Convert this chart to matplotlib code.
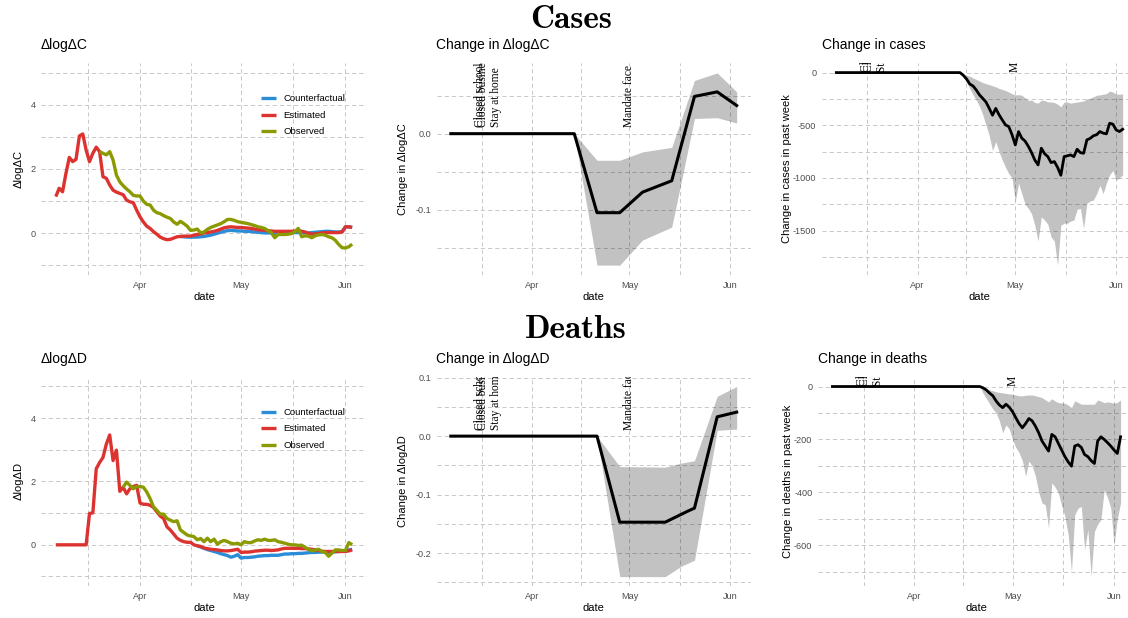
import numpy as np
import pandas as pd
import matplotlib
matplotlib.use('Agg')
import matplotlib.pyplot as plt
import matplotlib.dates as mdates

W, H = 1128, 618

# daily dates shown in the left panels
days = pd.date_range('2020-03-07', '2020-06-03')

# ---- Cases: dlogdC ----
cases_est = [1.14, 1.40, 1.29, 1.86, 2.36, 2.23, 2.30, 3.03, 3.09, 2.59, 2.23, 2.49, 2.68, 2.54,
             1.76, 1.71, 1.50, 1.34, 1.28, 1.24, 1.20, 1.03, 0.98, 0.95, 0.72,
             0.51, 0.35, 0.22, 0.15, 0.05, -0.03, -0.12, -0.17, -0.20, -0.19,
             -0.15, -0.11, -0.10, -0.09, -0.09, -0.09, -0.06, -0.04, -0.02, 0.01,
             0.02, 0.04, 0.06, 0.09, 0.13, 0.17, 0.19, 0.20, 0.19, 0.18,
             0.18, 0.17, 0.16, 0.15, 0.13, 0.11, 0.10, 0.09, 0.08, 0.07,
             0.06, 0.06, 0.06, 0.06, 0.06, 0.06, 0.07, 0.09, 0.06, 0.04,
             0.00, -0.03, -0.02, -0.01, 0.01, 0.02, 0.02, 0.02, 0.02, 0.02, 0.04,
             0.20, 0.20, 0.18]
cases_obs_start = '2020-03-20'
cases_obs = [2.54, 2.49, 2.44, 2.54, 2.28, 1.81, 1.60, 1.48, 1.38, 1.29, 1.18, 1.16,
             1.16, 1.00, 0.90, 0.88, 0.72, 0.64, 0.61, 0.55, 0.50, 0.46,
             0.35, 0.28, 0.37, 0.30, 0.22, 0.09, 0.10, 0.13, 0.01, 0.04,
             0.12, 0.18, 0.22, 0.26, 0.30, 0.36, 0.43, 0.43, 0.40, 0.36,
             0.34, 0.32, 0.30, 0.27, 0.24, 0.20, 0.18, 0.15, 0.08, 0.02,
             -0.14, -0.04, -0.04, -0.04, -0.03, -0.01, 0.05, 0.15, -0.11, -0.08,
             -0.09, -0.14, -0.08, -0.05, -0.04, -0.06, -0.11, -0.14, -0.22, -0.35, -0.45,
             -0.46, -0.42, -0.34]
cases_cf_start = '2020-04-13'
cases_cf = [-0.10, -0.11, -0.12, -0.12, -0.12, -0.12, -0.11, -0.10, -0.08, -0.06,
            -0.03, 0.00, 0.03, 0.06, 0.08, 0.09, 0.08, 0.07,
            0.07, 0.06, 0.06, 0.05, 0.04, 0.03, 0.02, 0.01, 0.01, 0.01,
            0.00, 0.00, 0.01, 0.01, 0.01, 0.01, 0.02, 0.02, 0.01, 0.01,
            0.01, 0.02, 0.03, 0.04, 0.05, 0.06, 0.06, 0.05, 0.04, 0.04, 0.05,
            0.20, 0.20, 0.18]

# ---- Deaths: dlogdD ----
deaths_est = [0, 0, 0, 0, 0, 0, 0, 0, 0, 0,
              0.99, 1.01, 2.40, 2.60, 2.76, 3.18, 3.47, 2.66, 2.99, 1.69,
              1.82, 1.61, 1.77, 1.84, 1.88,
              1.32, 1.28, 1.28, 1.25, 1.18, 1.04, 0.91, 0.83, 0.57, 0.47,
              0.34, 0.21, 0.14, 0.10, 0.08, 0.08, 0.00, -0.03, -0.05, -0.10,
              -0.12, -0.14, -0.15, -0.16, -0.18, -0.19, -0.19, -0.18, -0.16, -0.14,
              -0.24, -0.23, -0.23, -0.22, -0.20, -0.19, -0.18, -0.17, -0.17, -0.18,
              -0.17, -0.16, -0.13, -0.11, -0.11, -0.11, -0.11, -0.11, -0.12, -0.12,
              -0.13, -0.14, -0.16, -0.18, -0.20, -0.21, -0.21, -0.21, -0.21, -0.21, -0.21,
              -0.21, -0.19, -0.16]
deaths_obs_start = '2020-03-27'
deaths_obs = [1.82, 1.98, 1.88, 1.77, 1.84,
              1.84, 1.82, 1.67, 1.46, 1.20, 1.09, 0.97, 0.97, 0.83, 0.78,
              0.73, 0.76, 0.47, 0.39, 0.31, 0.28, 0.26, 0.16, 0.20, 0.10,
              0.21, 0.10, 0.18, 0.02, 0.10, 0.14, 0.10, 0.05, 0.03, 0.05,
              0.00, 0.10, 0.07, 0.07, 0.12, 0.16, 0.14, 0.18, 0.14, 0.14,
              0.16, 0.10, 0.08, 0.05, 0.02, 0.00, 0.00, -0.02, -0.01, -0.08,
              -0.14, -0.19, -0.16, -0.14, -0.21, -0.24, -0.36, -0.26, -0.16, -0.16, -0.18,
              -0.18, 0.07, 0.00]
deaths_cf_start = '2020-04-18'
deaths_cf = [-0.03, -0.07, -0.11, -0.15, -0.18, -0.21, -0.24, -0.28, -0.31, -0.34, -0.39, -0.36, -0.31,
             -0.42, -0.40, -0.40, -0.39, -0.38, -0.36, -0.35, -0.34, -0.34, -0.33,
             -0.33, -0.33, -0.31, -0.29, -0.29, -0.28, -0.28, -0.27, -0.27, -0.26,
             -0.25, -0.24, -0.24, -0.23, -0.23, -0.23, -0.23, -0.23, -0.22, -0.21, -0.20,
             -0.18, -0.16, -0.14]

# ---- change in dlogdC / dlogdD (policy effect) ----
cases_eff_dates = ['2020-03-07', '2020-04-14', '2020-04-21', '2020-04-28', '2020-05-05',
                   '2020-05-14', '2020-05-21', '2020-05-28', '2020-06-03']
cases_eff = [0, 0, -0.104, -0.104, -0.077, -0.062, 0.049, 0.055, 0.037]
cases_eff_lo = [0, 0, -0.173, -0.173, -0.140, -0.123, 0.020, 0.021, 0.014]
cases_eff_hi = [0, 0, -0.035, -0.035, -0.024, -0.018, 0.070, 0.080, 0.055]

deaths_eff_dates = ['2020-03-07', '2020-04-21', '2020-04-28', '2020-05-12', '2020-05-19',
                    '2020-05-21', '2020-05-28', '2020-06-03']
deaths_eff = [0, 0, -0.147, -0.147, -0.128, -0.123, 0.033, 0.041]
deaths_band_dates = ['2020-03-07', '2020-04-21', '2020-04-28', '2020-05-12', '2020-05-17',
                     '2020-05-21', '2020-05-28', '2020-06-03']
deaths_eff_lo = [0, 0, -0.240, -0.240, -0.222, -0.212, 0.010, 0.012]
deaths_eff_hi = [0, 0, -0.052, -0.053, -0.046, -0.042, 0.068, 0.085]

# ---- change in cases / deaths in past week ----
cases_chg_start = '2020-04-14'
cases_chg = [0, -25, -60, -108, -127, -165, -212, -245, -280, -340, -405, -340, -400, -450, -497, -513, -590,
             -687, -560, -623, -650, -700, -760, -830, -877, -718, -770,
             -798, -855, -845, -900, -975, -798, -790, -782, -798, -728,
             -760, -766, -639, -625, -600, -590, -560, -575, -582, -481, -490,
             -545, -560, -538]
cases_chg_hi = [0, -15, -25, -35, -50, -65, -80, -95, -105, -115, -125, -135, -150, -160, -170, -185, -200,
                -212, -210, -215, -240, -265, -260, -285, -290, -262, -265,
                -278, -280, -285, -300, -325, -280, -280, -290, -285, -280,
                -275, -270, -250, -245, -230, -215, -212, -205, -200, -175, -185,
                -205, -205, -203]
cases_chg_lo = [0, -40, -90, -150, -210, -260, -320, -400, -500, -600, -740, -655, -750, -830, -900, -960, -1000,
                -1225, -1050, -1150, -1250, -1290, -1340, -1450, -1600, -1370, -1400,
                -1440, -1560, -1600, -1830, -1450, -1430, -1430, -1410, -1400, -1300,
                -1290, -1480, -1240, -1220, -1210, -1150, -1070, -1150, -1050, -970, -930,
                -1020, -1000, -970]

deaths_chg_start = '2020-04-21'
deaths_chg = [0, -5, -13, -25, -35, -55, -70, -80, -67, -78,
              -95, -118, -140, -156, -140, -121, -130, -150, -175, -206,
              -225, -244, -181, -190, -215, -240, -265, -285, -301, -225,
              -220, -230, -257, -265, -280, -291, -206, -190, -200, -212, -225,
              -240, -253, -190]
deaths_chg_hi = [0, -5, -10, -13, -16, -20, -22, -24, -26, -28,
                 -29, -32, -35, -35, -33, -32, -32, -35, -38, -42,
                 -50, -58, -46, -55, -61, -62, -63, -70, -80, -54,
                 -60, -67, -67, -67, -67, -67, -51, -55, -61, -58, -60,
                 -63, -60, -51]
deaths_chg_lo = [0, -25, -45, -65, -85, -100, -130, -175, -145, -160,
                 -200, -230, -250, -280, -339, -282, -300, -339, -400, -440,
                 -447, -535, -364, -380, -402, -450, -491, -560, -700, -485,
                 -460, -453, -617, -541, -718, -548, -520, -503, -390, -420, -459,
                 -598, -500, -440]

policy_dates = ['2020-03-16', '2020-03-17', '2020-03-21', '2020-05-01']
policy_labels = ['Closed schools', 'Closed businesses', 'Stay at home', 'Mandate face masks']

series_names = ['Counterfactual', 'Estimated', 'Observed']
series_colors = ['#2B8CD8', '#DD3330', '#8A9A00']


def dates_from(start, n):
    return pd.date_range(start, periods=n)


def with_lead(start, n):
    # flat part before the change starts at the first plotted day
    return pd.DatetimeIndex([days[0]]).append(pd.date_range(start, periods=n))


plt.rcParams['font.family'] = ['Liberation Sans', 'DejaVu Sans']
plt.rcParams['lines.scale_dashes'] = False

fig = plt.figure(figsize=(W / 100, H / 100), dpi=100)


def add_panel(left, right, top, bottom):
    return fig.add_axes([left / W, 1 - bottom / H, (right - left) / W, (bottom - top) / H])


month_starts = pd.to_datetime(['2020-03-01', '2020-04-01', '2020-05-01', '2020-06-01'])
major_x = mdates.date2num(month_starts[1:])
minor_x = (mdates.date2num(month_starts[:-1]) + mdates.date2num(month_starts[1:])) / 2
xlim = (mdates.date2num(days[0]) - 4.4, mdates.date2num(days[-1]) + 4.4)


def style(ax, title, ylabel, ymajor, ylabels, yminor, ylim, ypad=5):
    ax.set_xlim(xlim)
    ax.set_ylim(ylim)
    ax.set_xticks(major_x)
    ax.set_xticklabels(['Apr', 'May', 'Jun'])
    ax.set_xticks(minor_x, minor=True)
    ax.set_yticks(ymajor)
    ax.set_yticklabels(ylabels)
    ax.set_yticks(yminor, minor=True)
    ax.grid(which='both', color='#c8c8c8', lw=0.7, ls=(0, (3, 2.2)))
    ax.set_axisbelow(True)
    for s in ax.spines.values():
        s.set_visible(False)
    ax.tick_params(which='both', length=0, labelsize=6.6, labelcolor='#4d4d4d', pad=4)
    ax.set_title(title, loc='left', fontsize=10, pad=10)
    ax.set_xlabel('date', fontsize=8, labelpad=1.5)
    ax.set_ylabel(ylabel, fontsize=8, labelpad=ypad)


def left_panel(ax, est, obs_start, obs, cf_start, cf, name):
    ax.plot(dates_from(cf_start, len(cf)), cf, color=series_colors[0], lw=2.4, label=series_names[0],
            solid_capstyle='butt')
    ax.plot(days, est, color=series_colors[1], lw=2.4, label=series_names[1], solid_capstyle='butt')
    ax.plot(dates_from(obs_start, len(obs)), obs, color=series_colors[2], lw=2.4, label=series_names[2],
            solid_capstyle='butt')
    style(ax, name, name, [0, 2, 4], ['0', '2', '4'], [-1, 1, 3, 5], (-1.3, 5.3))
    ax.legend(loc='upper left', bbox_to_anchor=(0.674, 0.852), frameon=False, fontsize=6.8,
              handlelength=1.6, handletextpad=0.8, labelspacing=0.8, borderpad=0, borderaxespad=0)


def policy_text(ax, offset):
    for d, lab in zip(policy_dates, policy_labels):
        ax.annotate(lab, xy=(mdates.date2num(pd.Timestamp(d)), 0), xytext=(0, offset),
                    textcoords='offset points', rotation=90, ha='center', va='bottom',
                    fontsize=8.3, family=['Liberation Serif', 'DejaVu Serif'], clip_on=True)


# ---------- Cases row ----------
ax = add_panel(41, 367, 63, 275)
left_panel(ax, cases_est, cases_obs_start, cases_obs, cases_cf_start, cases_cf, 'ΔlogΔC')

ax = add_panel(436.5, 751, 63, 275)
ax.fill_between(pd.to_datetime(cases_eff_dates), cases_eff_lo, cases_eff_hi, color='black', alpha=0.24, lw=0)
ax.plot(pd.to_datetime(cases_eff_dates), cases_eff, color='black', lw=2.2)
style(ax, 'Change in ΔlogΔC', 'Change in ΔlogΔC', [-0.1, 0.0], ['-0.1', '0.0'],
      [-0.15, -0.05, 0.05], (-0.186, 0.093))
policy_text(ax, 5)

ax = add_panel(822, 1137, 63, 275)
x = with_lead(cases_chg_start, len(cases_chg))
ax.fill_between(x, [0] + cases_chg_lo, [0] + cases_chg_hi, color='black', alpha=0.24, lw=0)
ax.plot(x, [0] + cases_chg, color='black', lw=2.0)
style(ax, 'Change in cases', 'Change in cases in past week', [-1500, -1000, -500, 0],
      ['-1500', '-1000', '-500', '0'], [-1750, -1250, -750, -250], (-1922, 91), ypad=1)
policy_text(ax, 0.7)

# ---------- Deaths row ----------
ax = add_panel(41, 367, 377, 586)
left_panel(ax, deaths_est, deaths_obs_start, deaths_obs, deaths_cf_start, deaths_cf, 'ΔlogΔD')

ax = add_panel(436.5, 751, 377, 586)
ax.fill_between(pd.to_datetime(deaths_band_dates), deaths_eff_lo, deaths_eff_hi, color='black', alpha=0.24, lw=0)
ax.plot(pd.to_datetime(deaths_eff_dates), deaths_eff, color='black', lw=2.2)
style(ax, 'Change in ΔlogΔD', 'Change in ΔlogΔD', [-0.2, -0.1, 0.0, 0.1], ['-0.2', '-0.1', '0.0', '0.1'],
      [-0.25, -0.15, -0.05, 0.05], (-0.256, 0.101))
policy_text(ax, 4.5)

ax = add_panel(818, 1135, 377, 586)
x = with_lead(deaths_chg_start, len(deaths_chg))
ax.fill_between(x, [0] + deaths_chg_lo, [0] + deaths_chg_hi, color='black', alpha=0.24, lw=0)
ax.plot(x, [0] + deaths_chg, color='black', lw=2.0)
style(ax, 'Change in deaths', 'Change in deaths in past week', [-600, -400, -200, 0],
      ['-600', '-400', '-200', '0'], [-700, -500, -300, -100], (-754, 36), ypad=1)
policy_text(ax, 0.7)

fig.text(571 / W, 1 - 28 / H, 'Cases', ha='center', va='baseline', fontsize=24,
         family=['cmb10', 'DejaVu Serif'])
fig.text(576 / W, 1 - 338 / H, 'Deaths', ha='center', va='baseline', fontsize=24,
         family=['cmb10', 'DejaVu Serif'])

fig.savefig('out.png', dpi=100)
